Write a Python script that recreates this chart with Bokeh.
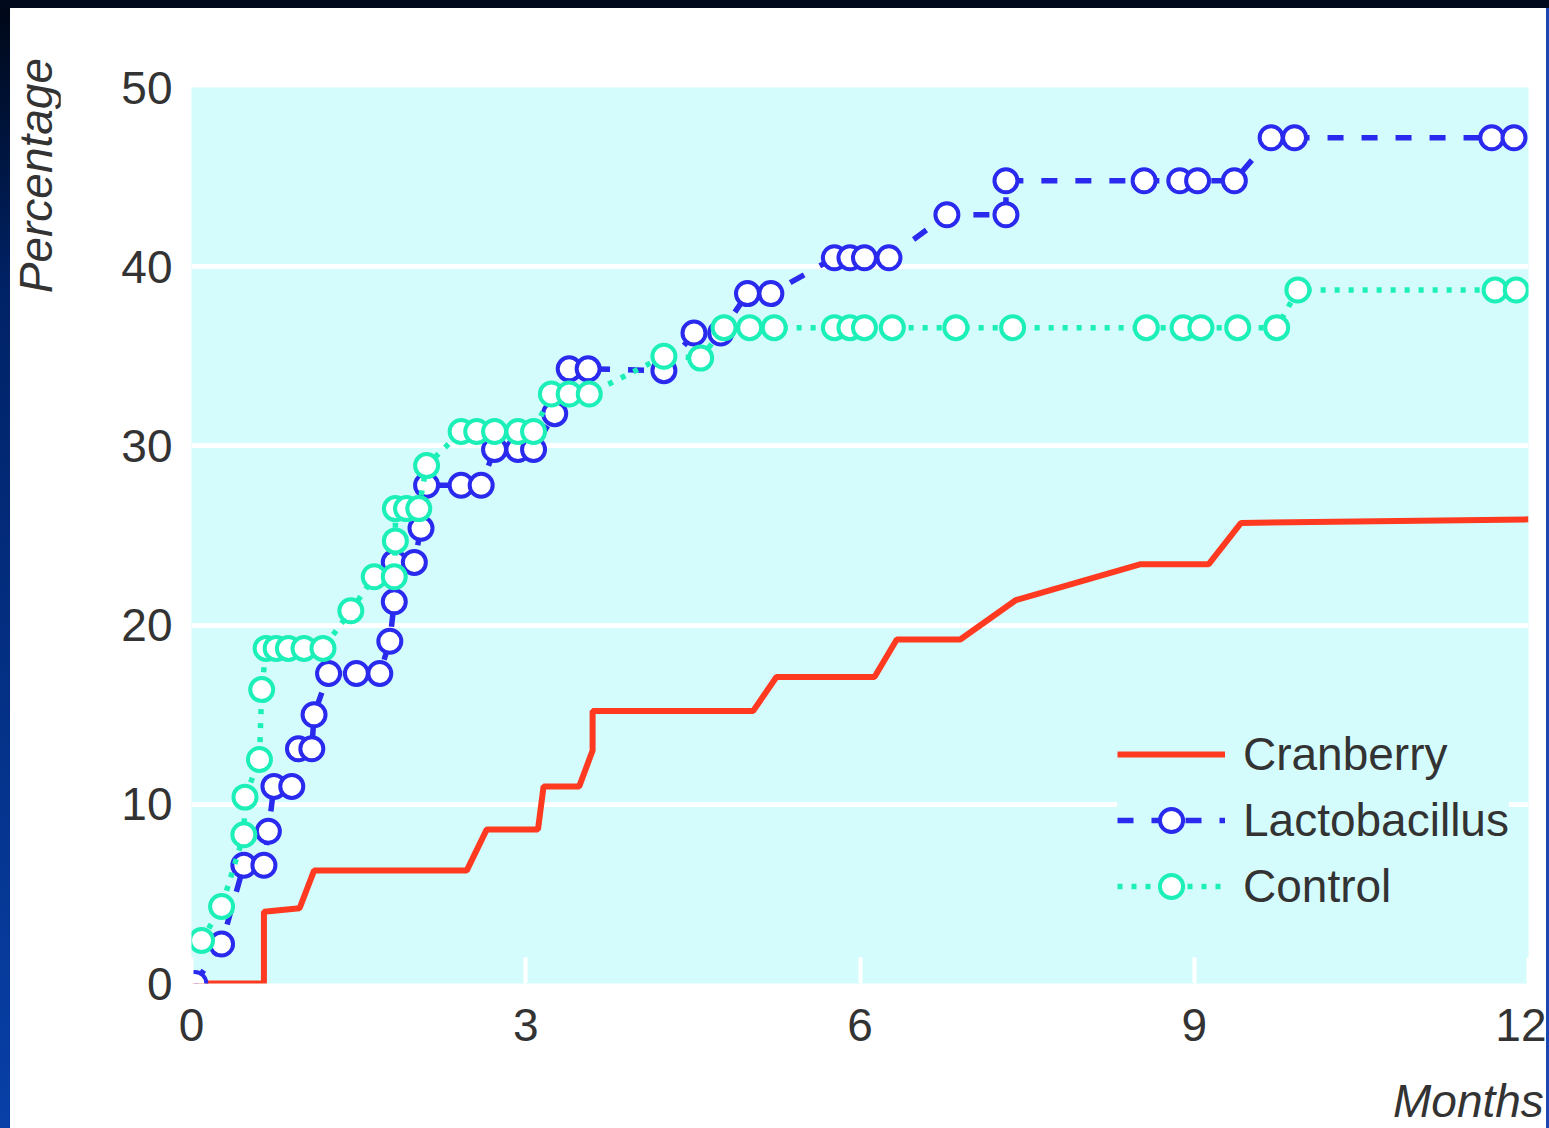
from bokeh.plotting import figure
from bokeh.models import Range1d, FixedTicker, Legend, LegendItem, Div
from bokeh.layouts import column, row
from bokeh.embed import file_html
from bokeh.resources import INLINE

# ---------------- data ----------------
x_ticks = [0, 3, 6, 9, 12]
y_ticks = [0, 10, 20, 30, 40, 50]
grid_ticks = [10, 20, 30, 40]

cran_months = [0.0, 0.65, 0.65, 0.97, 1.10, 2.47, 2.65, 3.11, 3.16, 3.48, 3.60, 3.60,
               5.04, 5.25, 6.13, 6.33, 6.90, 7.40, 8.52, 9.13, 9.42, 12.0]
cran_pct = [0.0, 0.0, 4.0, 4.2, 6.3, 6.3, 8.6, 8.6, 11.0, 11.0, 13.0, 15.2,
            15.2, 17.1, 17.1, 19.2, 19.2, 21.4, 23.4, 23.4, 25.7, 25.9]

lacto_months = [0.03, 0.27, 0.47, 0.65, 0.69, 0.74, 0.90, 0.96, 1.08, 1.10,
                1.23, 1.48, 1.69, 1.78, 1.82, 1.82, 2.00, 2.06, 2.11, 2.42,
                2.60, 2.72, 2.93, 3.07, 3.26, 3.39, 3.56, 4.24, 4.51, 4.75,
                4.99, 5.20, 5.77, 5.91, 6.04, 6.26, 6.78, 7.31, 7.31, 8.55,
                8.87, 9.03, 9.36, 9.69, 9.90, 11.67, 11.87]
lacto_pct = [0.0, 2.2, 6.6, 6.6, 8.5, 11.0, 11.0, 13.1, 13.1, 15.0,
             17.3, 17.3, 17.3, 19.1, 21.3, 23.5, 23.5, 25.4, 27.8, 27.8,
             27.8, 29.8, 29.8, 29.8, 31.8, 34.3, 34.3, 34.2, 36.3, 36.3,
             38.5, 38.5, 40.5, 40.5, 40.5, 40.5, 42.9, 42.9, 44.8, 44.8,
             44.8, 44.8, 44.8, 47.2, 47.2, 47.2, 47.2]

ctrl_months = [0.09, 0.27, 0.47, 0.48, 0.61, 0.63, 0.67, 0.76, 0.87, 1.01,
               1.18, 1.43, 1.64, 1.82, 1.83, 1.83, 1.93, 2.04, 2.11, 2.42,
               2.56, 2.72, 2.93, 3.07, 3.23, 3.39, 3.57, 4.24, 4.57, 4.78,
               5.01, 5.23, 5.77, 5.91, 6.04, 6.29, 6.86, 7.37, 8.57, 8.90,
               9.06, 9.39, 9.74, 9.93, 11.70, 11.89]
ctrl_pct = [2.4, 4.3, 8.3, 10.4, 12.5, 16.4, 18.7, 18.7, 18.7, 18.7,
            18.7, 20.8, 22.7, 22.7, 24.7, 26.5, 26.5, 26.5, 28.9, 30.8,
            30.8, 30.8, 30.8, 30.8, 32.9, 32.9, 32.9, 35.0, 34.9, 36.6,
            36.6, 36.6, 36.6, 36.6, 36.6, 36.6, 36.6, 36.6, 36.6, 36.6,
            36.6, 36.6, 36.6, 38.7, 38.7, 38.7]

series_names = ["Cranberry", "Lactobacillus", "Control"]
x_title = "Months"
y_title = "Percentage"

# ---------------- styles ----------------
FONT = "Liberation Sans Narrow, Arial Narrow, Liberation Sans, sans-serif"
FS = "46px"
TXT = "#333333"
BG = "#d5fcfd"
RED = "#ff3a20"
BLUE = "#2a2aee"
GREEN = "#1cefb8"

p = figure(width=1486, height=1059, output_backend="svg", toolbar_location=None,
           x_range=Range1d(0, 12), y_range=Range1d(0, 50),
           min_border_left=131, min_border_right=18, min_border_top=79,
           min_border_bottom=84, margin=0)
p.background_fill_color = BG
p.border_fill_color = "white"
p.outline_line_color = None

# axes
p.xaxis.ticker = FixedTicker(ticks=x_ticks)
p.yaxis.ticker = FixedTicker(ticks=y_ticks)
for ax in (p.xaxis, p.yaxis):
    ax.axis_line_color = None
    ax.minor_tick_line_color = None
    ax.major_label_text_font = FONT
    ax.major_label_text_font_size = FS
    ax.major_label_text_color = TXT
p.xaxis.major_tick_in = 26
p.xaxis.major_tick_out = 0
p.xaxis.major_tick_line_color = "white"
p.xaxis.major_tick_line_width = 4
p.xaxis.major_label_standoff = 25
p.yaxis.major_tick_line_color = None
p.yaxis.major_tick_in = 0
p.yaxis.major_tick_out = 0
p.yaxis.major_label_standoff = 19

p.xgrid.grid_line_color = None
p.ygrid.ticker = FixedTicker(ticks=grid_ticks)
p.ygrid.grid_line_color = "white"
p.ygrid.grid_line_width = 5

# series
r_cran = p.line(cran_months, cran_pct, line_color=RED, line_width=6)

r_lac_l = p.line(lacto_months, lacto_pct, line_color=BLUE, line_width=5.5,
                 line_dash="16 18")
r_lac_m = p.scatter(lacto_months, lacto_pct, marker="circle", size=23,
                    line_color=BLUE, line_width=4, fill_color="white")

r_ctl_l = p.line(ctrl_months, ctrl_pct, line_color=GREEN, line_width=5.5,
                 line_dash="5 9")
r_ctl_m = p.scatter(ctrl_months, ctrl_pct, marker="circle", size=23,
                    line_color=GREEN, line_width=4, fill_color="white")

legend = Legend(items=[
    LegendItem(label=series_names[0], renderers=[r_cran]),
    LegendItem(label=series_names[1], renderers=[r_lac_l, r_lac_m]),
    LegendItem(label=series_names[2], renderers=[r_ctl_l, r_ctl_m]),
], location=(926, 68), orientation="vertical")
legend.background_fill_color = BG
legend.background_fill_alpha = 1.0
legend.border_line_color = None
legend.padding = 20
legend.margin = 0
legend.spacing = 8
legend.glyph_width = 108
legend.glyph_height = 58
legend.label_height = 58
legend.label_standoff = 18
legend.label_text_font = FONT
legend.label_text_font_size = FS
legend.label_text_color = TXT
legend.label_text_baseline = "middle"
p.add_layout(legend, "center")

# axis titles as real HTML text beside the chart
TITLE_CSS = ("font-family:'Liberation Sans',sans-serif;font-size:46px;"
             "font-style:italic;color:#333333;line-height:52px;white-space:nowrap;")
left_div = Div(
    width=60, height=1120, margin=0,
    text=('<div style="writing-mode:vertical-rl;transform:rotate(180deg);'
          'margin-left:10px;margin-top:50px;' + TITLE_CSS + '">' + y_title + '</div>'),
    styles={"background": "linear-gradient(to bottom, #000818 0%, #002266 25%, "
                          "#0840a8 100%) left top / 10px 100% no-repeat, #ffffff"})
months_div = Div(
    width=1486, height=61, margin=0,
    text=('<div style="padding-left:1333px;padding-top:8px;' + TITLE_CSS + '">'
          + x_title + '</div>'),
    styles={"background": "#ffffff", "overflow": "hidden"})

# dark slide frame around the chart
top_bar = Div(width=1549, height=8, margin=0, styles={"background": "#000a1c"})
right_bar = Div(width=3, height=1120, margin=0, styles={"background": "#1a48b0"})

middle = column(p, months_div, spacing=0, margin=0)
page = column(top_bar, row(left_div, middle, right_bar, spacing=0, margin=0),
              spacing=0, margin=0)

open("out.html", "w").write(file_html(page, INLINE))
